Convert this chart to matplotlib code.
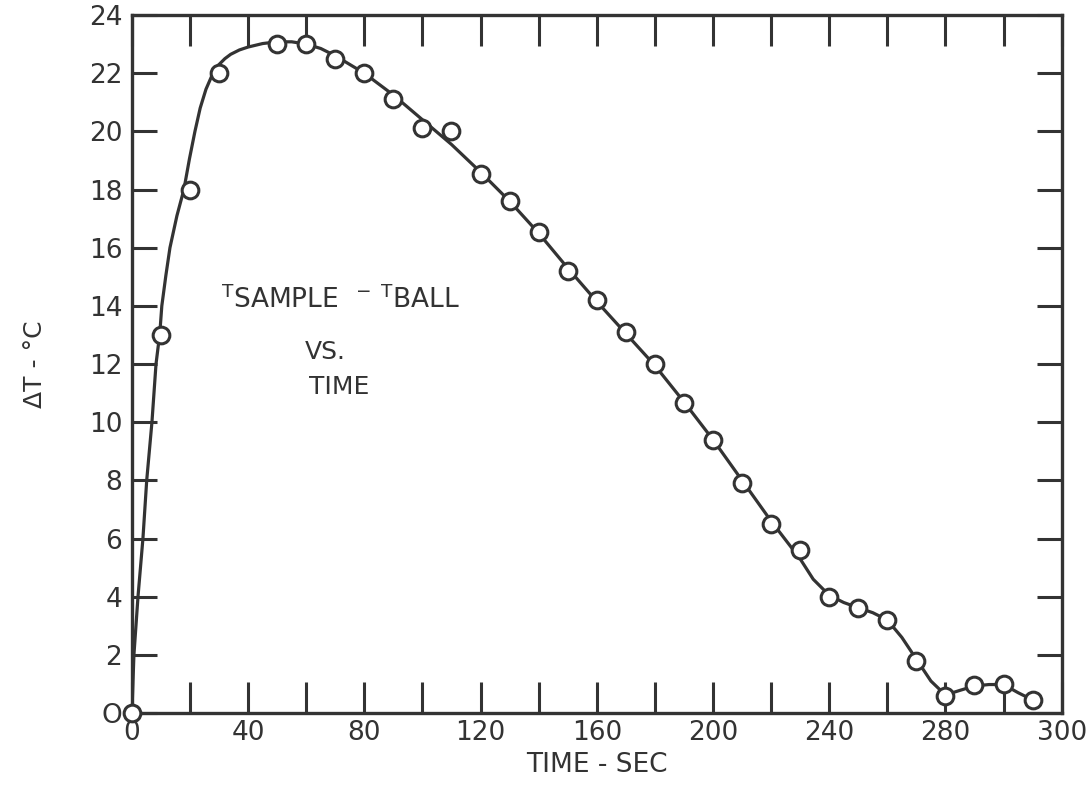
import matplotlib.pyplot as plt
import numpy as np

# measured points (time in s, delta T in deg C)
t_pts = [0, 10, 20, 30, 50, 60, 70, 80, 90, 100, 110, 120, 130, 140, 150, 160,
         170, 180, 190, 200, 210, 220, 230, 240, 250, 260, 270, 280, 290, 300, 310]
dt_pts = [0, 13.0, 18.0, 22.0, 23.0, 23.0, 22.5, 22.0, 21.1, 20.1, 20.0, 18.55, 17.6, 16.55, 15.2, 14.2,
          13.1, 12.0, 10.65, 9.4, 7.9, 6.5, 5.6, 4.0, 3.6, 3.2, 1.8, 0.6, 0.95, 1.0, 0.45]

# hand-drawn smooth curve
t_curve = [0, 0.7, 2.1, 3.8, 5.1, 6.9, 8.3, 9.6, 10.3, 11.7, 13.1, 15.5, 17.9, 19.8, 21.7, 23.5, 25.5, 27.9,
           30, 32, 34, 37, 40, 45, 50, 55, 60, 65, 70, 75,
           80, 90, 100, 110, 120, 130, 140, 150, 160, 170, 180, 190, 200, 210, 220, 230,
           234.5, 240, 245, 250, 255, 260, 265, 270, 275, 280, 285, 290, 295, 300, 305, 310]
dt_curve = [0, 2, 4, 6, 8, 10, 12, 13.05, 14, 15.05, 16, 17.1, 18, 19.05, 20, 20.8, 21.45, 22.0,
            22.3, 22.5, 22.65, 22.8, 22.9, 23.02, 23.08, 23.08, 23.0, 22.85, 22.6, 22.3,
            22.0, 21.25, 20.4, 19.55, 18.6, 17.6, 16.5, 15.3, 14.15, 13.05, 11.95, 10.7, 9.4, 8.0, 6.6, 5.3,
            4.6, 4.05, 3.8, 3.62, 3.45, 3.2, 2.6, 1.85, 1.1, 0.62, 0.78, 0.93, 0.98, 0.98, 0.7, 0.45]

x_tick_pos = [0, 40, 80, 120, 160, 200, 240, 280, 320]
x_tick_lab = ['0', '40', '80', '120', '160', '200', '240', '280', '300']
y_tick_pos = list(range(0, 25, 2))
y_tick_lab = ['O'] + [str(v) for v in y_tick_pos[1:]]

ink = '#333333'
plt.rcParams['font.family'] = ['DejaVu Sans']

fig = plt.figure(figsize=(10.9, 7.92), dpi=100)
ax = fig.add_axes([0.121, 0.0997, 0.853, 0.8813])

ax.plot(t_curve, dt_curve, color=ink, linewidth=2.3, zorder=2, solid_joinstyle='round')
ax.plot(t_pts, dt_pts, linestyle='none', marker='o', markersize=12,
        markerfacecolor='white', markeredgecolor=ink, markeredgewidth=2.2,
        zorder=3, clip_on=False)

ax.set_xlim(0, 320)
ax.set_ylim(0, 24)
ax.set_xticks(x_tick_pos)
ax.set_xticklabels(x_tick_lab)
ax.set_xticks(np.arange(20, 320, 40), minor=True)
ax.set_yticks(y_tick_pos)
ax.set_yticklabels(y_tick_lab)

ax.tick_params(axis='both', which='both', direction='in', color=ink, width=2.2,
               labelsize=19, labelcolor=ink)
ax.tick_params(axis='x', which='both', length=22, top=True, pad=5)
ax.tick_params(axis='y', which='both', length=18, right=True, pad=7)

for s in ax.spines.values():
    s.set_linewidth(2.4)
    s.set_color(ink)

ax.set_xlabel('TIME - SEC', fontsize=19, color=ink, labelpad=4)
ax.set_ylabel('ΔT - °C', fontsize=18, color=ink, labelpad=30)

ax.text(30.5, 14.2, r'$\mathregular{^{T}SAMPLE\ \ ^{-}\ ^{T}BALL}$', fontsize=19, color=ink,
        ha='left', va='center')
ax.text(66.5, 12.4, 'VS.', fontsize=18, color=ink, ha='center', va='center')
ax.text(71.5, 11.2, 'TIME', fontsize=18, color=ink, ha='center', va='center')

fig.savefig('out.png', dpi=100)
